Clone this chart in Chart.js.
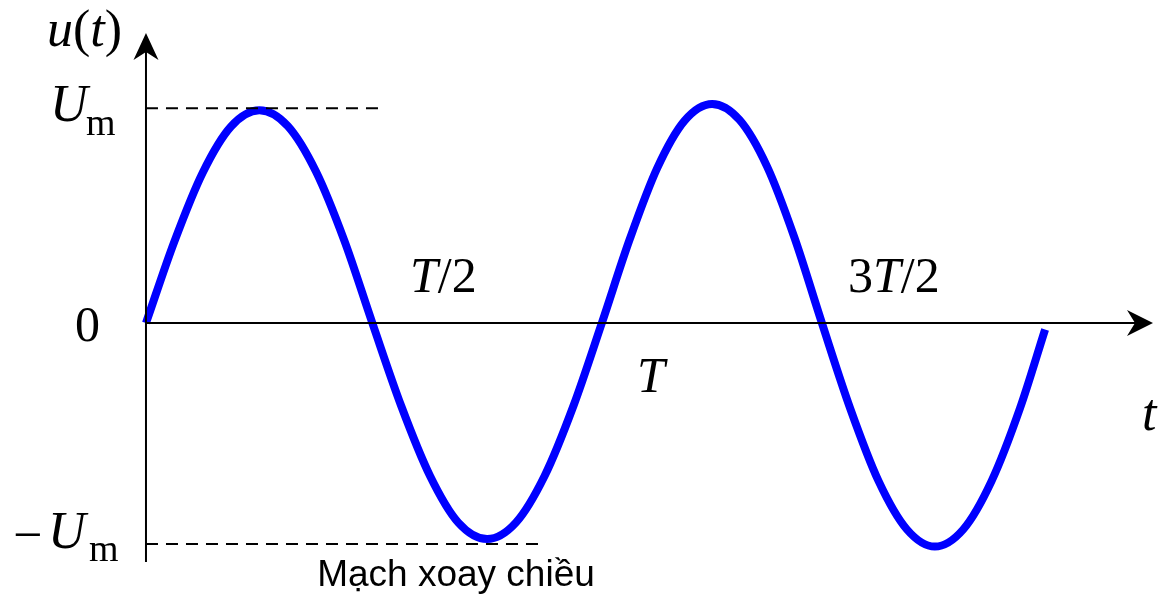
<!DOCTYPE html>
<html>
<head>
<meta charset="utf-8">
<title>u(t)</title>
<script src="https://cdn.jsdelivr.net/npm/chart.js@4/dist/chart.umd.min.js"></script>
<style>
  html, body { margin: 0; padding: 0; background: #fff; }
  canvas { display: block; }
</style>
</head>
<body>
<canvas id="waveChart" width="1168" height="596"></canvas>
<script>
// points along the wave, t in periods T, u in units of Um
const tValues = [0, 0.063, 0.126, 0.189, 0.252, 0.315, 0.378, 0.441,
                 0.503, 0.567, 0.631, 0.694, 0.758, 0.822, 0.886, 0.950,
                 1.013, 1.075, 1.136, 1.197, 1.258, 1.319, 1.380, 1.441,
                 1.502, 1.565, 1.628, 1.691, 1.753, 1.816, 1.879, 1.942, 1.998];
const uValues = [0, 0.377, 0.696, 0.910, 0.985, 0.912, 0.700, 0.380,
                 0, -0.383, -0.707, -0.924, -1.000, -0.924, -0.707, -0.383,
                 0, 0.388, 0.717, 0.937, 1.014, 0.940, 0.725, 0.395,
                 0, -0.396, -0.732, -0.956, -1.035, -0.956, -0.732, -0.396, -0.03];

// dashed guide lines for +Um / -Um (level and where the dash stops)
const guideLevels = [0.994, -1.023];
const guideEnds = [0.518, 0.887];

// tick marks on the time axis
const xTickValues = [0.5, 1, 1.5];
const xTickLabels = ['T/2', 'T', '3T/2'];

const wave = tValues.map((t, i) => ({ x: t, y: uValues[i] }));
const guides = guideLevels.map((level, i) => ({
    data: [{ x: 0, y: level }, { x: guideEnds[i], y: level }],
    borderColor: '#000',
    borderWidth: 2,
    borderDash: [12, 8],
    pointRadius: 0,
    showLine: true,
    order: 1
}));

const SERIF = '"Liberation Serif", "Times New Roman", serif';

// draws a run of pieces [text, italic, size] starting at x
function drawRun(ctx, pieces, x, y) {
    pieces.forEach(p => {
        ctx.font = (p[1] ? 'italic ' : '') + p[2] + 'px ' + SERIF;
        ctx.fillText(p[0], x, y);
        x += ctx.measureText(p[0]).width;
    });
}

const axesPlugin = {
    id: 'axes',
    afterDatasetsDraw(chart) {
        const { ctx, scales: { x, y } } = chart;
        const x0 = x.getPixelForValue(0);
        const y0 = y.getPixelForValue(0);

        ctx.save();
        ctx.strokeStyle = '#000';
        ctx.fillStyle = '#000';
        ctx.lineWidth = 2;

        // vertical axis
        ctx.beginPath();
        ctx.moveTo(x0, 562);
        ctx.lineTo(x0, 48);
        ctx.stroke();
        ctx.beginPath();
        ctx.moveTo(x0, 33);
        ctx.lineTo(x0 - 12.5, 60);
        ctx.lineTo(x0, 52);
        ctx.lineTo(x0 + 12.5, 60);
        ctx.closePath();
        ctx.fill();

        // horizontal axis
        ctx.beginPath();
        ctx.moveTo(x0, y0);
        ctx.lineTo(1140, y0);
        ctx.stroke();
        ctx.beginPath();
        ctx.moveTo(1153, y0);
        ctx.lineTo(1127, y0 - 13);
        ctx.lineTo(1135, y0);
        ctx.lineTo(1127, y0 + 13);
        ctx.closePath();
        ctx.fill();

        ctx.textAlign = 'left';
        ctx.textBaseline = 'alphabetic';

        // axis names
        drawRun(ctx, [['u', true, 52], ['(', false, 52], ['t', true, 52], [')', false, 52]], 47, 46);
        drawRun(ctx, [['t', true, 52]], 1142, 430);

        // value labels on the vertical axis
        drawRun(ctx, [['0', false, 50]], 75, y0 + 18);
        const yUm = y.getPixelForValue(guideLevels[0]);
        drawRun(ctx, [['U', true, 52]], 50, yUm + 13);
        drawRun(ctx, [['m', false, 38]], 86, yUm + 27);
        const yNeg = y.getPixelForValue(guideLevels[1]);
        drawRun(ctx, [['\u2212', false, 52]], 13, yNeg + 8);
        drawRun(ctx, [['U', true, 52]], 48, yNeg + 4);
        drawRun(ctx, [['m', false, 38]], 89, yNeg + 17);

        // time labels, set off beside the zero crossings
        const offsets = [[39, -31], [41, 69], [27, -31]];
        xTickValues.forEach((v, i) => {
            const px = x.getPixelForValue(v) + offsets[i][0];
            const py = y0 + offsets[i][1];
            const pieces = xTickLabels[i].split('').map(ch => [ch, ch === 'T', 50]);
            drawRun(ctx, pieces, px, py);
        });

        // caption
        ctx.font = '37px "Liberation Sans", Arial, sans-serif';
        ctx.textAlign = 'center';
        ctx.fillText('Mạch xoay chiều', 456, 586);

        ctx.restore();
    }
};

new Chart(document.getElementById('waveChart'), {
    type: 'scatter',
    data: {
        datasets: [{
            data: wave,
            borderColor: '#0000ff',
            borderWidth: 8,
            pointRadius: 0,
            showLine: true,
            cubicInterpolationMode: 'monotone',
            order: 2
        }, ...guides]
    },
    options: {
        responsive: false,
        animation: false,
        devicePixelRatio: 1,
        layout: { padding: 0 },
        clip: false,
        scales: {
            x: { type: 'linear', display: false, min: -0.3244, max: 2.2711 },
            y: { type: 'linear', display: false, min: -1.2639, max: 1.4954 }
        },
        plugins: {
            legend: { display: false },
            tooltip: { enabled: false }
        }
    },
    plugins: [axesPlugin]
});
</script>
</body>
</html>
